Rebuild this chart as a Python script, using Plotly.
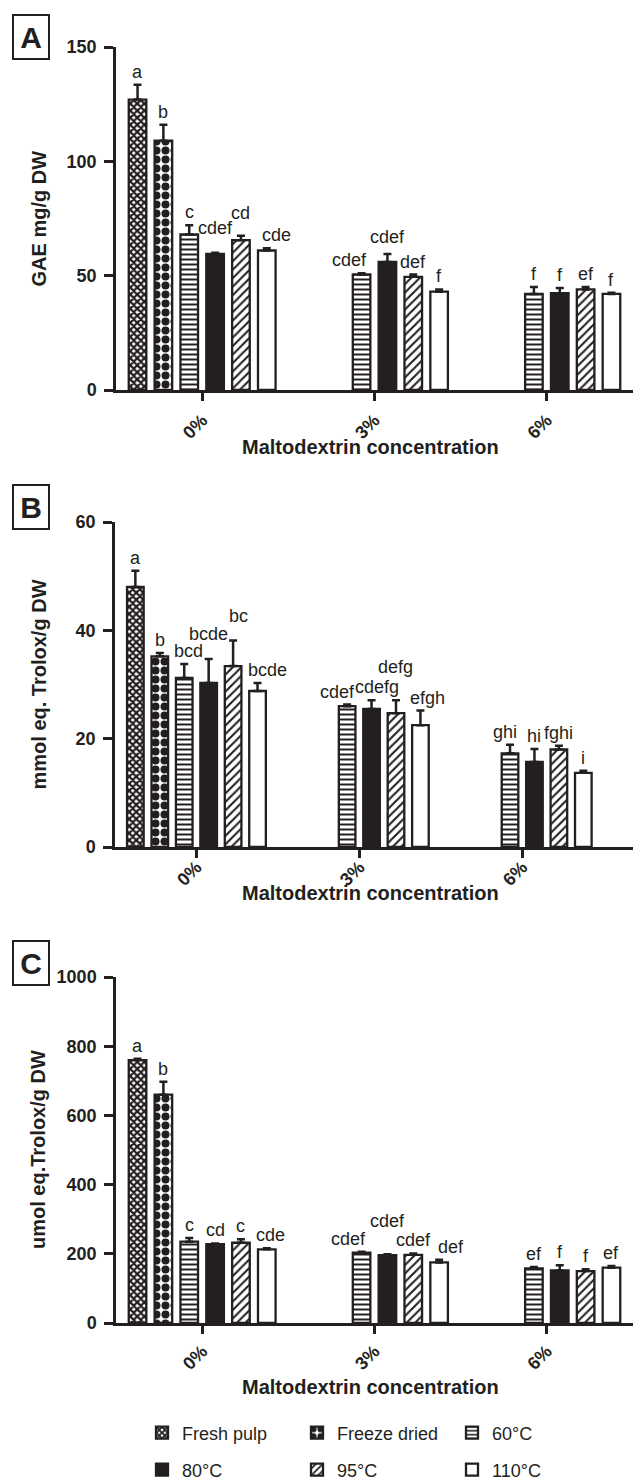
import plotly.graph_objects as go

# ---------------- data ----------------
concentrations = ["0%", "3%", "6%"]
series_names = ["Fresh pulp", "Freeze dried", "60°C", "80°C", "95°C", "110°C"]

# Panel A: GAE mg/g DW (rows follow series_names, columns follow concentrations)
gae_mean = [
    [127, None, None],
    [109, None, None],
    [68, 50.5, 42],
    [59.5, 56, 42.3],
    [65.5, 49.5, 44],
    [61, 43, 42],
]
gae_err = [
    [6.5, None, None],
    [7, None, None],
    [4, 0.6, 3],
    [0.5, 3.5, 2.3],
    [2, 1, 1],
    [1, 1, 0.5],
]
gae_letters = [
    ["a", None, None],
    ["b", None, None],
    ["c", "cdef", "f"],
    ["cdef", "cdef", "f"],
    ["cd", "def", "ef"],
    ["cde", "f", "f"],
]

# Panel B: mmol eq. Trolox/g DW
mmol_mean = [
    [48, None, None],
    [35.2, None, None],
    [31.2, 26, 17.3],
    [30.3, 25.5, 15.7],
    [33.4, 24.7, 18],
    [28.8, 22.5, 13.7],
]
mmol_err = [
    [3, None, None],
    [0.6, None, None],
    [2.6, 0.3, 1.6],
    [4.4, 1.6, 2.4],
    [4.7, 2.4, 0.7],
    [1.5, 2.7, 0.4],
]
mmol_letters = [
    ["a", None, None],
    ["b", None, None],
    ["bcd", "cdef", "ghi"],
    ["bcde", "cdefg", "hi"],
    ["bc", "defg", "fghi"],
    ["bcde", "efgh", "i"],
]

# Panel C: umol eq.Trolox/g DW
umol_mean = [
    [760, None, None],
    [660, None, None],
    [235, 203, 158],
    [228, 196, 152],
    [232, 197, 150],
    [213, 175, 160],
]
umol_err = [
    [4, None, None],
    [37, None, None],
    [11, 3, 4],
    [2, 3, 15],
    [10, 4, 5],
    [3, 8, 5],
]
umol_letters = [
    ["a", None, None],
    ["b", None, None],
    ["c", "cdef", "ef"],
    ["cd", "cdef", "f"],
    ["c", "cdef", "f"],
    ["cde", "def", "ef"],
]

y_titles = ["GAE mg/g DW", "mmol eq. Trolox/g DW", "umol eq.Trolox/g DW"]
y_ticks = [[0, 50, 100, 150], [0, 20, 40, 60], [0, 200, 400, 600, 800, 1000]]
panel_tags = ["A", "B", "C"]
x_title = "Maltodextrin concentration"

# ---------------- style / layout ----------------
W, H = 633, 1482
INK = "#231f20"
FONT = "Liberation Sans, Arial, Helvetica, sans-serif"

# pixel boxes of the three plot areas: (left, right, top, bottom)
boxes = [(116, 633, 47, 390), (115, 633, 522, 847), (116, 633, 977, 1323)]
x_ranges = [[-0.5, 2.5], [-0.5, 2.68], [-0.5, 2.5]]
y_ranges = [[0, 150], [0, 60], [0, 1000]]
xtitle_y = [447, 893, 1387]
xlabel_standoff = [2, -8, 0]
ytitle_x = 38
tag_centers = [(31, 37), (31, 507), (31, 963)]

patterns = [
    dict(shape="x", fgcolor=INK, bgcolor="white", size=5, solidity=0.7),
    dict(shape=".", fgcolor=INK, bgcolor="white", size=9, solidity=0.62),
    dict(shape="-", fgcolor=INK, bgcolor="white", size=5, solidity=0.4),
    None,
    dict(shape="/", fgcolor=INK, bgcolor="white", size=6, solidity=0.35),
    None,
]
fills = ["white", "white", "white", INK, "white", "white"]
legend_of = ["legend", "legend", "legend", "legend2", "legend2", "legend2"]

# manual nudges of significance letters (px): (panel, series, group) -> (dx, dy)
nudges = {
    (0, 3, 0): (0, 12), (0, 4, 0): (0, 10), (0, 5, 0): (10, 0),
    (0, 2, 1): (-12, 0), (0, 3, 1): (0, 4),
    (1, 2, 0): (4, 0), (1, 3, 0): (0, 12), (1, 4, 0): (5, 12), (1, 5, 0): (10, 0),
    (1, 2, 1): (-10, 0), (1, 3, 1): (5, 0), (1, 4, 1): (0, 20), (1, 5, 1): (7, 0),
    (1, 2, 2): (-5, 0),
    (2, 5, 0): (4, 0), (2, 2, 1): (-13, 0), (2, 3, 1): (0, 20), (2, 5, 1): (12, 0),
}

BARGAP = 0.1
BARGROUPGAP = 0.32
n_series = len(series_names)
slot = (1 - BARGAP) / n_series

panels = [
    (gae_mean, gae_err, gae_letters),
    (mmol_mean, mmol_err, mmol_letters),
    (umol_mean, umol_err, umol_letters),
]

fig = go.Figure()
annotations = []
layout_axes = {}

for p, (means, errs, letters) in enumerate(panels):
    xa = "x" if p == 0 else f"x{p + 1}"
    ya = "y" if p == 0 else f"y{p + 1}"
    for s, name in enumerate(series_names):
        marker = dict(color=fills[s], line=dict(color=INK, width=2.3))
        if patterns[s] is not None:
            marker["pattern"] = dict(fillmode="replace", **patterns[s])
        fig.add_trace(go.Bar(
            x=concentrations, y=means[s], name=name,
            xaxis=xa, yaxis=ya,
            marker=marker,
            error_y=dict(type="data", array=errs[s],
                         arrayminus=[0 if v is not None else None for v in errs[s]],
                         symmetric=False, color=INK, thickness=2.5, width=4),
            legendgroup=name, showlegend=(p == 0), legend=legend_of[s],
            hoverinfo="x+y+name",
        ))
        for g in range(len(concentrations)):
            lab = letters[s][g]
            if lab is None or means[s][g] is None:
                continue
            dx, dy = nudges.get((p, s, g), (0, 0))
            annotations.append(dict(
                x=g + (s - (n_series - 1) / 2) * slot, y=means[s][g] + errs[s][g],
                xref=xa, yref=ya, text=lab, showarrow=False,
                xanchor="center", yanchor="bottom", xshift=dx, yshift=1 + dy,
                font=dict(family=FONT, size=18, color=INK),
            ))
    l, r, t, b = boxes[p]
    axis_common = dict(showline=True, linecolor=INK, linewidth=2.5, ticks="outside",
                       tickcolor=INK, tickwidth=2.5, showgrid=False, zeroline=False,
                       automargin=False,
                       tickfont=dict(family=FONT, size=18, color=INK, weight="bold"))
    layout_axes["xaxis" if p == 0 else f"xaxis{p + 1}"] = dict(
        domain=[l / W, r / W], anchor=ya, type="category",
        categoryorder="array", categoryarray=concentrations,
        range=x_ranges[p], ticklen=8, tickangle=-45,
        ticklabelstandoff=xlabel_standoff[p], **axis_common)
    layout_axes["yaxis" if p == 0 else f"yaxis{p + 1}"] = dict(
        domain=[1 - b / H, 1 - t / H], anchor=xa, range=y_ranges[p],
        tickvals=y_ticks[p], ticklen=9, ticklabelstandoff=4, **axis_common)
    # axis titles
    annotations.append(dict(
        x=(l + r) / 2 / W - 0.006, y=1 - xtitle_y[p] / H, xref="paper", yref="paper",
        text=x_title, showarrow=False, xanchor="center", yanchor="middle",
        font=dict(family=FONT, size=20, color=INK, weight="bold")))
    annotations.append(dict(
        x=ytitle_x / W, y=1 - (t + b) / 2 / H, xref="paper", yref="paper",
        text=y_titles[p], showarrow=False, textangle=-90,
        xanchor="center", yanchor="middle",
        font=dict(family=FONT, size=20, color=INK, weight="bold")))
    # panel tag
    cx, cy = tag_centers[p]
    annotations.append(dict(
        x=cx / W, y=1 - cy / H, xref="paper", yref="paper", text=panel_tags[p],
        showarrow=False, xanchor="center", yanchor="middle",
        width=34, height=42, bordercolor=INK, borderwidth=2, borderpad=0,
        font=dict(family=FONT, size=30, color=INK, weight="bold")))

legend_common = dict(orientation="h", xref="paper", yref="paper",
                     xanchor="left", yanchor="middle", entrywidth=110,
                     entrywidthmode="pixels", bgcolor="rgba(0,0,0,0)",
                     font=dict(family=FONT, size=18, color=INK), traceorder="normal")

fig.update_layout(
    width=W, height=H,
    margin=dict(l=0, r=0, t=0, b=0, pad=0, autoexpand=False),
    paper_bgcolor="white", plot_bgcolor="white",
    barmode="group", bargap=BARGAP, bargroupgap=BARGROUPGAP,
    font=dict(family=FONT, color=INK),
    annotations=annotations,
    legend=dict(x=142 / W, y=1 - 1433 / H, **legend_common),
    legend2=dict(x=142 / W, y=1 - 1470 / H, **legend_common),
    **layout_axes,
)

fig.write_html("out.html", config={"displayModeBar": False},
               post_script="document.body.style.margin='0';document.body.style.overflow='hidden';")
